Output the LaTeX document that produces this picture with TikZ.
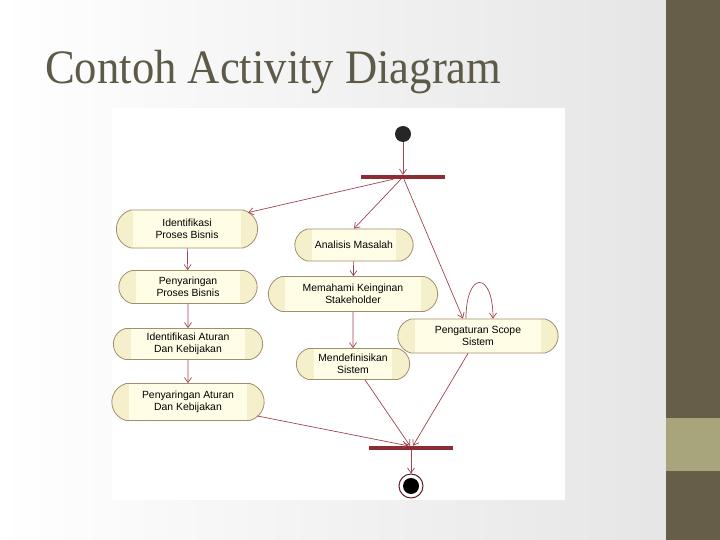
\documentclass[tikz,border=0pt]{standalone}
\usepackage{fontspec}
\setmainfont{Liberation Sans}
\newfontfamily\titlefont{Liberation Serif}
\usetikzlibrary{arrows.meta,shapes.misc}

\definecolor{olive}{HTML}{665E48}
\definecolor{olivelight}{HTML}{A8A47C}
\definecolor{titlegray}{HTML}{5E5A48}
\definecolor{flowred}{HTML}{A3434E}
\definecolor{barred}{HTML}{8E2C36}
\definecolor{actfill}{HTML}{F5EFCB}
\definecolor{actinner}{HTML}{FFFDE6}
\definecolor{actline}{HTML}{A08F6C}

\tikzset{
  activity/.style={rounded rectangle, rounded rectangle arc length=150,
    draw=actline, fill=actfill, line width=0.8pt,
    align=center, font=\fontsize{10.4}{12.5}\selectfont,
    path picture={\fill[actinner] ([shift={(19,-4)}]path picture bounding box.north west)
      rectangle ([shift={(-19,5)}]path picture bounding box.south east);}},
  syncbar/.style={fill=barred, minimum width=84pt, minimum height=4pt, inner sep=0pt},
  flow/.style={draw=flowred, line width=0.7pt, -{Straight Barb[length=5pt,width=7pt]}}
}

\begin{document}
\begin{tikzpicture}[x=1pt,y=-1pt]

% slide background and side bar
\useasboundingbox (0,0) rectangle (720,540);
\shade[left color=white, right color=black!10] (0,0) rectangle (666,540);
\fill[olive] (666,0) rectangle (720,540);
\fill[olivelight] (666,418) rectangle (720,471);

% title
\node[anchor=base west, inner sep=0pt, text=titlegray, xscale=0.93] (title) at (45,84)
  {\titlefont\fontsize{48}{48}\selectfont Contoh Activity Diagram};

% picture area
\fill[white] (112,108) rectangle (565,500);

% start, fork and join
\node[circle, fill=black!85, minimum size=16pt, inner sep=0pt] (start) at (403,134) {};
\node[syncbar] (fork) at (403,177) {};
\node[syncbar] (join) at (411,448) {};
\node[circle, draw=barred!70!black, line width=1pt, minimum size=24pt, inner sep=0pt] (stop) at (411,486) {};
\node[circle, fill=black, minimum size=16pt, inner sep=0pt] at (stop) {};

% left column
\node[activity, minimum width=148pt, minimum height=38pt] (idpb) at (187,229) {Identifikasi\\Proses Bisnis};
\node[activity, minimum width=145pt, minimum height=33pt] (penpb) at (188,287) {Penyaringan\\Proses Bisnis};
\node[activity, minimum width=156pt, minimum height=31pt] (idak) at (188,344) {Identifikasi Aturan\\Dan Kebijakan};
\node[activity, minimum width=159pt, minimum height=37pt] (penak) at (188,402) {Penyaringan Aturan\\Dan Kebijakan};

% middle column
\node[activity, minimum width=125pt, minimum height=32pt] (masalah) at (354,245) {Analisis Masalah};
\node[activity, minimum width=176pt, minimum height=35pt] (keinginan) at (353,294) {Memahami Keinginan\\Stakeholder};
\node[activity, minimum width=120pt, minimum height=31pt] (sistem) at (353,364) {Mendefinisikan\\Sistem};

% right column
\node[activity, minimum width=167pt, minimum height=34pt] (scope) at (478,336) {Pengaturan Scope\\Sistem};

% connectors
\draw[flow] (start) -- (fork);
\draw[flow] (fork) -- ([shift={(61,3)}]idpb.north);
\draw[flow] (fork) -- (masalah.north);
\draw[flow] (fork) -- ([xshift=-15]scope.north);
\draw[flow] ([xshift=-12]scope.north) .. controls +(0,-48) and +(0,-48) .. ([xshift=15]scope.north);

\draw[flow] (idpb) -- (penpb);
\draw[flow] (penpb) -- (idak);
\draw[flow] (idak) -- (penak);
\draw[flow] (masalah) -- (keinginan);
\draw[flow] (keinginan) -- (sistem);

\draw[flow] ([shift={(69,-5)}]penak.south) -- ([xshift=-3]join.north);
\draw[flow] ([xshift=12]sistem.south) -- ([xshift=-1]join.north);
\draw[flow] ([xshift=-10]scope.south) -- ([xshift=2]join.north);
\draw[flow] (join) -- (stop);

\end{tikzpicture}
\end{document}
